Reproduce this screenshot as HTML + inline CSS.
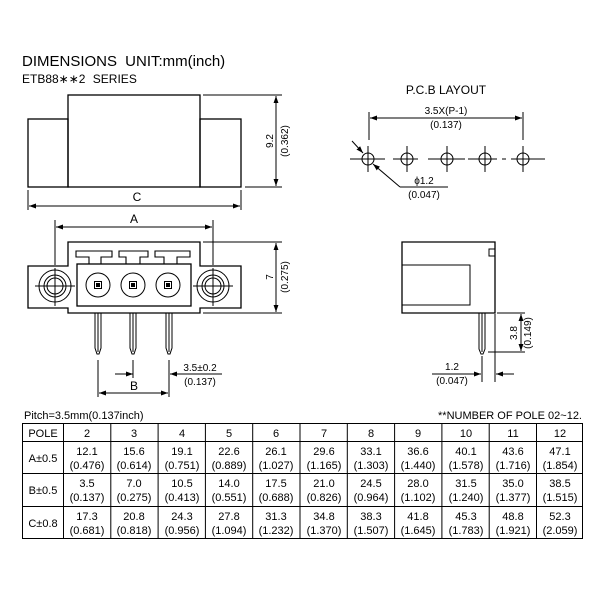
<!DOCTYPE html>
<html><head><style>
html,body{margin:0;padding:0;background:#fff;}
svg{display:block;}
text{font-family:"Liberation Sans",sans-serif;fill:#000;}
</style></head><body>
<svg width="600" height="600" viewBox="0 0 600 600" xmlns="http://www.w3.org/2000/svg">
<defs>
<marker id="ar" viewBox="0 0 10 10" refX="10" refY="5" markerWidth="7" markerHeight="7" orient="auto-start-reverse" markerUnits="userSpaceOnUse"><path d="M0,1.5 L10,5 L0,8.5 z" fill="#000"/></marker>
</defs>
<g stroke="#000" stroke-width="1.3" fill="none">
<rect x="28" y="119" width="40" height="68"/>
<rect x="68" y="95" width="132" height="92"/>
<rect x="200" y="119" width="41" height="68"/>
<line x1="203" y1="95" x2="282" y2="95" stroke-width="1"/>
<line x1="245" y1="187" x2="282" y2="187" stroke-width="1"/>
<line x1="276" y1="96" x2="276" y2="186" stroke-width="1" marker-start="url(#ar)" marker-end="url(#ar)"/>
<line x1="28" y1="190" x2="28" y2="210" stroke-width="1"/>
<line x1="241" y1="190" x2="241" y2="210" stroke-width="1"/>
<line x1="29" y1="206" x2="240" y2="206" stroke-width="1" marker-start="url(#ar)" marker-end="url(#ar)"/>
<line x1="55" y1="220" x2="55" y2="265" stroke-width="1"/>
<line x1="213" y1="220" x2="213" y2="265" stroke-width="1"/>
<line x1="56" y1="227" x2="212" y2="227" stroke-width="1" marker-start="url(#ar)" marker-end="url(#ar)"/>
<path d="M28,266 H68 V242 H200 V266 H241 V308 H200 V313 H68 V308 H28 Z"/>
<rect x="77" y="264" width="114" height="42"/>
<path d="M89,264 V257 H76 V251 H112 V257 H101 V264" stroke-width="1.1"/>
<path d="M126,264 V257 H119 V251 H148 V257 H140 V264" stroke-width="1.1"/>
<path d="M164,264 V257 H155 V251 H190 V257 H177 V264" stroke-width="1.1"/>
<g stroke-width="1">
<circle cx="98" cy="285" r="12"/><circle cx="133" cy="285" r="12"/><circle cx="168" cy="285" r="12"/>
<rect x="94.5" y="281.5" width="7" height="7"/><rect x="129.5" y="281.5" width="7" height="7"/><rect x="164.5" y="281.5" width="7" height="7"/>
<rect x="96.5" y="283.5" width="3" height="3" fill="#000"/><rect x="131.5" y="283.5" width="3" height="3" fill="#000"/><rect x="166.5" y="283.5" width="3" height="3" fill="#000"/>
<circle cx="55" cy="286" r="16"/><circle cx="55" cy="286" r="11"/><circle cx="55" cy="286" r="8"/>
<line x1="35" y1="286" x2="75" y2="286"/><line x1="55" y1="268" x2="55" y2="306"/>
<circle cx="213" cy="286" r="16"/><circle cx="213" cy="286" r="11"/><circle cx="213" cy="286" r="8"/>
<line x1="193" y1="286" x2="233" y2="286"/><line x1="213" y1="268" x2="213" y2="306"/>
</g>
<g stroke-width="1">
<path d="M95,313 V348 L97,354 H99 L101,348 V313"/><line x1="98" y1="313" x2="98" y2="352"/>
<path d="M130,313 V348 L132,354 H134 L136,348 V313"/><line x1="133" y1="313" x2="133" y2="352"/>
<path d="M166,313 V348 L168,354 H170 L172,348 V313"/><line x1="169" y1="313" x2="169" y2="352"/>
<line x1="203" y1="242" x2="282" y2="242"/>
<line x1="203" y1="313" x2="282" y2="313"/>
<line x1="276" y1="243" x2="276" y2="312" marker-start="url(#ar)" marker-end="url(#ar)"/>
<line x1="98" y1="360" x2="98" y2="397"/>
<line x1="169" y1="360" x2="169" y2="397"/>
<line x1="133" y1="360" x2="133" y2="378"/>
<line x1="115" y1="374" x2="133" y2="374" marker-end="url(#ar)"/>
<line x1="222" y1="374" x2="170" y2="374" marker-end="url(#ar)"/>
<line x1="99" y1="393" x2="168" y2="393" marker-start="url(#ar)" marker-end="url(#ar)"/>
</g>
<g stroke-width="1">
<line x1="369" y1="112" x2="369" y2="140"/><line x1="523" y1="112" x2="523" y2="140"/>
<line x1="370" y1="118" x2="522" y2="118" marker-start="url(#ar)" marker-end="url(#ar)"/>
<circle cx="368" cy="159" r="6"/><circle cx="407" cy="159" r="6"/><circle cx="447" cy="159" r="6"/><circle cx="485" cy="159" r="6"/><circle cx="523" cy="159" r="6"/>
<line x1="368" y1="146" x2="368" y2="172"/><line x1="407" y1="146" x2="407" y2="172"/><line x1="447" y1="146" x2="447" y2="172"/><line x1="485" y1="146" x2="485" y2="172"/><line x1="523" y1="146" x2="523" y2="172"/>
<line x1="350" y1="159" x2="385" y2="159"/>
<line x1="393" y1="159" x2="418" y2="159"/>
<line x1="428" y1="159" x2="465" y2="159"/>
<line x1="468" y1="159" x2="497" y2="159"/>
<line x1="502" y1="159" x2="506" y2="159"/>
<line x1="511" y1="159" x2="545" y2="159"/>
<line x1="352" y1="141" x2="363" y2="153" marker-end="url(#ar)"/>
<path d="M400,187 L373,164" marker-end="url(#ar)"/>
<line x1="400" y1="187" x2="448" y2="187"/>
</g>
<path d="M402,242 H495 V313 H402 Z"/>
<path d="M495,249 H489 V256 H495" stroke-width="1"/>
<rect x="402" y="265" width="68" height="40" stroke-width="1"/>
<g stroke-width="1">
<path d="M479,313 V349 L481,354 H483 L485,349 V313"/><line x1="482" y1="313" x2="482" y2="352"/>
<line x1="497" y1="313" x2="525" y2="313"/>
<line x1="488" y1="352" x2="525" y2="352"/>
<line x1="521" y1="314" x2="521" y2="351" marker-start="url(#ar)" marker-end="url(#ar)"/>
<line x1="482" y1="356" x2="482" y2="382"/>
<line x1="495" y1="314" x2="495" y2="382"/>
<line x1="432" y1="374" x2="481" y2="374" marker-end="url(#ar)"/>
<line x1="514" y1="374" x2="496" y2="374" marker-end="url(#ar)"/>
</g>
<g stroke-width="1">
<rect x="22.5" y="423.5" width="560" height="115"/>
<line x1="22" y1="441.5" x2="583" y2="441.5"/>
<line x1="22" y1="473.5" x2="583" y2="473.5"/>
<line x1="22" y1="506.5" x2="583" y2="506.5"/>
<line x1="63.5" y1="423" x2="63.5" y2="539"/>
<line x1="110.8" y1="423" x2="110.8" y2="539"/><line x1="158.1" y1="423" x2="158.1" y2="539"/><line x1="205.4" y1="423" x2="205.4" y2="539"/><line x1="252.7" y1="423" x2="252.7" y2="539"/><line x1="300" y1="423" x2="300" y2="539"/><line x1="347.3" y1="423" x2="347.3" y2="539"/><line x1="394.6" y1="423" x2="394.6" y2="539"/><line x1="441.9" y1="423" x2="441.9" y2="539"/><line x1="489.2" y1="423" x2="489.2" y2="539"/><line x1="536.5" y1="423" x2="536.5" y2="539"/>
</g>
</g>
<text x="22" y="66" font-size="15" word-spacing="4">DIMENSIONS  UNIT:mm(inch)</text>
<text x="22" y="83" font-size="12" word-spacing="4">ETB88∗∗2  SERIES</text>
<text x="137" y="201" font-size="12" text-anchor="middle">C</text>
<text x="134" y="223" font-size="12" text-anchor="middle">A</text>
<text x="134" y="390" font-size="12" text-anchor="middle">B</text>
<g font-size="10" text-anchor="middle">
<text transform="translate(273,141) rotate(-90)" >9.2</text>
<text transform="translate(288,141) rotate(-90)">(0.362)</text>
<text transform="translate(273,277) rotate(-90)">7</text>
<text transform="translate(288,277) rotate(-90)">(0.275)</text>
<text x="200" y="371">3.5±0.2</text>
<text x="200" y="385">(0.137)</text>
<text x="446" y="114">3.5X(P-1)</text>
<text x="446" y="128">(0.137)</text>
<text x="424" y="184">ϕ1.2</text>
<text x="424" y="198">(0.047)</text>
<text transform="translate(517,333) rotate(-90)">3.8</text>
<text transform="translate(531,333) rotate(-90)">(0.149)</text>
<text x="452" y="370">1.2</text>
<text x="452" y="384">(0.047)</text>
</g>
<text x="446" y="94" font-size="12" text-anchor="middle">P.C.B LAYOUT</text>
<text x="24" y="419" font-size="11">Pitch=3.5mm(0.137inch)</text>
<text x="582" y="419" font-size="11" text-anchor="end">**NUMBER OF POLE 02~12.</text>
<g font-size="11" text-anchor="middle">
<text x="43" y="437">POLE</text>
<text x="43" y="462">A±0.5</text>
<text x="43" y="494">B±0.5</text>
<text x="43" y="527">C±0.8</text>
<text x="87" y="437">2</text><text x="134" y="437">3</text><text x="182" y="437">4</text><text x="229" y="437">5</text><text x="276" y="437">6</text><text x="324" y="437">7</text><text x="371" y="437">8</text><text x="418" y="437">9</text><text x="466" y="437">10</text><text x="513" y="437">11</text><text x="560" y="437">12</text>
<text x="87" y="455">12.1</text><text x="134" y="455">15.6</text><text x="182" y="455">19.1</text><text x="229" y="455">22.6</text><text x="276" y="455">26.1</text><text x="324" y="455">29.6</text><text x="371" y="455">33.1</text><text x="418" y="455">36.6</text><text x="466" y="455">40.1</text><text x="513" y="455">43.6</text><text x="560" y="455">47.1</text>
<text x="87" y="469">(0.476)</text><text x="134" y="469">(0.614)</text><text x="182" y="469">(0.751)</text><text x="229" y="469">(0.889)</text><text x="276" y="469">(1.027)</text><text x="324" y="469">(1.165)</text><text x="371" y="469">(1.303)</text><text x="418" y="469">(1.440)</text><text x="466" y="469">(1.578)</text><text x="513" y="469">(1.716)</text><text x="560" y="469">(1.854)</text>
<text x="87" y="487">3.5</text><text x="134" y="487">7.0</text><text x="182" y="487">10.5</text><text x="229" y="487">14.0</text><text x="276" y="487">17.5</text><text x="324" y="487">21.0</text><text x="371" y="487">24.5</text><text x="418" y="487">28.0</text><text x="466" y="487">31.5</text><text x="513" y="487">35.0</text><text x="560" y="487">38.5</text>
<text x="87" y="501">(0.137)</text><text x="134" y="501">(0.275)</text><text x="182" y="501">(0.413)</text><text x="229" y="501">(0.551)</text><text x="276" y="501">(0.688)</text><text x="324" y="501">(0.826)</text><text x="371" y="501">(0.964)</text><text x="418" y="501">(1.102)</text><text x="466" y="501">(1.240)</text><text x="513" y="501">(1.377)</text><text x="560" y="501">(1.515)</text>
<text x="87" y="520">17.3</text><text x="134" y="520">20.8</text><text x="182" y="520">24.3</text><text x="229" y="520">27.8</text><text x="276" y="520">31.3</text><text x="324" y="520">34.8</text><text x="371" y="520">38.3</text><text x="418" y="520">41.8</text><text x="466" y="520">45.3</text><text x="513" y="520">48.8</text><text x="560" y="520">52.3</text>
<text x="87" y="534">(0.681)</text><text x="134" y="534">(0.818)</text><text x="182" y="534">(0.956)</text><text x="229" y="534">(1.094)</text><text x="276" y="534">(1.232)</text><text x="324" y="534">(1.370)</text><text x="371" y="534">(1.507)</text><text x="418" y="534">(1.645)</text><text x="466" y="534">(1.783)</text><text x="513" y="534">(1.921)</text><text x="560" y="534">(2.059)</text>
</g>
</svg>
</body></html>
